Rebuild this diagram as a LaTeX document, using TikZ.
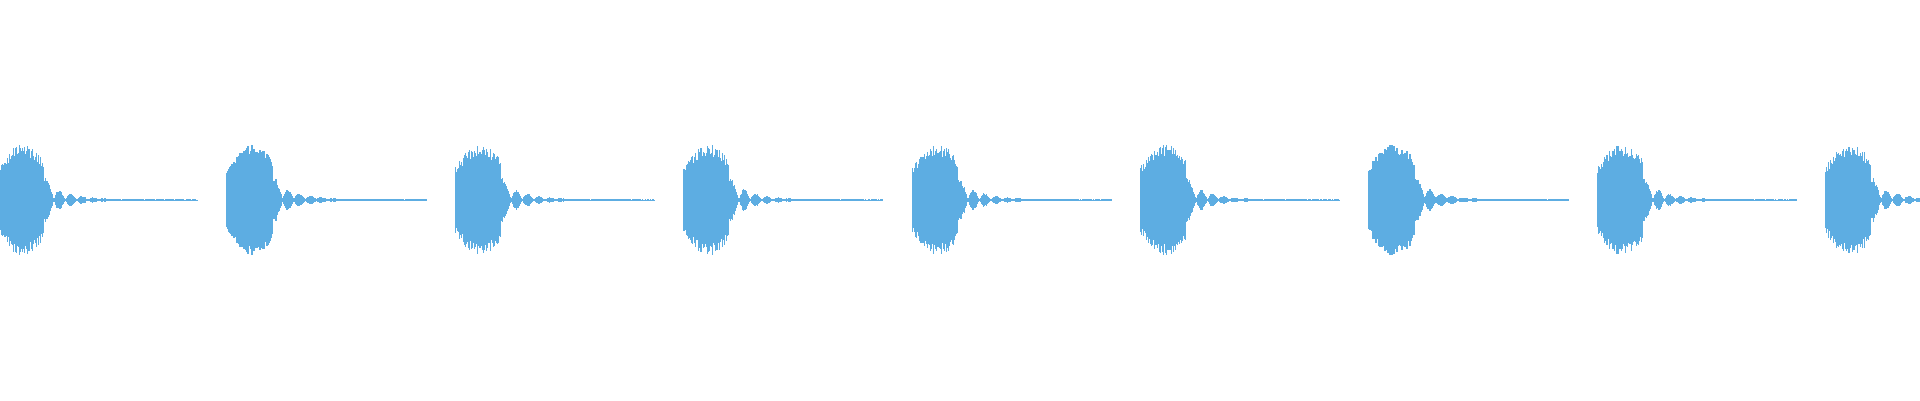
\documentclass[tikz,border=0pt]{standalone}
\definecolor{wave}{HTML}{5DADE2}
\begin{document}
\begin{tikzpicture}[x=1pt,y=1pt,bar/.style={fill=wave}]
\useasboundingbox (0,0) rectangle (1920,400);
\clip (0,0) rectangle (1920,400);
\pgfmathsetseed{7}
\foreach \b in {0,...,8}{
  \pgfmathsetmacro\xo{-2+228.4*\b}
  \foreach \t in {0,...,199}{
    \pgfmathsetmacro\a{\t<50 ? (34+22*sin(\t*3.6))*(0.78+0.22*rnd)*(\t>45 ? 0.6 : 1) : (0.6+17*exp(-(\t-50)/22)*abs(cos((\t-50)*16)))*(0.75+0.25*rnd)}
    \fill[bar] (\xo+\t,200-\a) rectangle (\xo+\t+1.1,200+\a);
  }
}
\end{tikzpicture}
\end{document}
